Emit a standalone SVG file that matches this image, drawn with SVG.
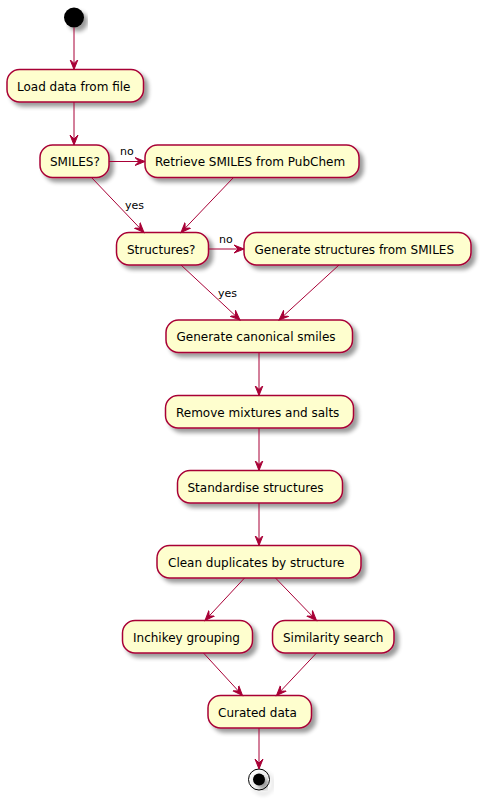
<svg xmlns="http://www.w3.org/2000/svg" width="481" height="800" viewBox="0 0 481 800">
<defs>
<filter id="sh" x="-10%" y="-20%" width="130%" height="160%">
<feGaussianBlur in="SourceAlpha" stdDeviation="2"/>
<feOffset dx="4" dy="4" result="b"/>
<feComponentTransfer in="b" result="c"><feFuncA type="linear" slope="0.4"/></feComponentTransfer>
<feMerge><feMergeNode in="c"/><feMergeNode in="SourceGraphic"/></feMerge>
</filter>
<marker id="ah" markerUnits="userSpaceOnUse" markerWidth="12" markerHeight="10" refX="10" refY="5" orient="auto" viewBox="0 0 12 10">
<path d="M0,1 L10,5 L0,9 L4,5 Z" fill="#A80036" stroke="#A80036" stroke-width="1"/>
</marker>
<style>
.box{fill:#FEFECE;stroke:#A80036;stroke-width:1.5;filter:url(#sh)}
.t{font-family:"DejaVu Sans",sans-serif;font-size:12px;fill:#000}
.l{font-family:"DejaVu Sans",sans-serif;font-size:11px;fill:#000}
.c{stroke:#A80036;stroke-width:1;fill:none;marker-end:url(#ah)}
</style>
</defs>
<rect width="481" height="800" fill="#fff"/>
<g id="start"><circle cx="74" cy="17.5" r="10" fill="#000" style="filter:url(#sh)"/></g>
<g id="load"><rect class="box" x="7" y="69.5" width="136.5" height="32.5" rx="12.5"/><text class="t" x="17" y="90.5">Load data from file</text></g>
<g id="smiles"><rect class="box" x="40" y="145" width="69" height="32.5" rx="12.5"/><text class="t" x="50" y="166">SMILES?</text></g>
<g id="retrieve"><rect class="box" x="145" y="145" width="214" height="32.5" rx="12.5"/><text class="t" x="155" y="166">Retrieve SMILES from PubChem</text></g>
<g id="structures"><rect class="box" x="116.5" y="232.5" width="92" height="32.5" rx="12.5"/><text class="t" x="127" y="253.5">Structures?</text></g>
<g id="genstruct"><rect class="box" x="244" y="232.5" width="227" height="32.5" rx="12.5"/><text class="t" x="254.5" y="253.5">Generate structures from SMILES</text></g>
<g id="canonical"><rect class="box" x="166" y="320" width="186.5" height="32.5" rx="12.5"/><text class="t" x="176.5" y="341">Generate canonical smiles</text></g>
<g id="remove"><rect class="box" x="165.5" y="395.5" width="188" height="32.5" rx="12.5"/><text class="t" x="176" y="416.5">Remove mixtures and salts</text></g>
<g id="standardise"><rect class="box" x="177.5" y="470.5" width="165" height="32.5" rx="12.5"/><text class="t" x="187.5" y="491.5">Standardise structures</text></g>
<g id="clean"><rect class="box" x="157" y="545.5" width="204" height="32.5" rx="12.5"/><text class="t" x="168" y="566.5">Clean duplicates by structure</text></g>
<g id="inchikey"><rect class="box" x="122.5" y="620.5" width="130" height="32.5" rx="12.5"/><text class="t" x="133" y="641.5">Inchikey grouping</text></g>
<g id="similarity"><rect class="box" x="272.5" y="620.5" width="121.5" height="32.5" rx="12.5"/><text class="t" x="283" y="641.5">Similarity search</text></g>
<g id="curated"><rect class="box" x="208" y="695.5" width="103.5" height="32.5" rx="12.5"/><text class="t" x="218" y="716.5">Curated data</text></g>
<g id="end"><circle cx="259" cy="779.5" r="10.5" fill="none" stroke="#000" stroke-width="1" style="filter:url(#sh)"/><circle cx="259" cy="779.5" r="6" fill="#000" style="filter:url(#sh)"/></g>
<g id="connectors">
<line class="c" x1="74" y1="27.5" x2="74" y2="69.5"/>
<line class="c" x1="74" y1="102" x2="74" y2="145"/>
<line class="c" x1="109" y1="161.5" x2="145" y2="161.5"/>
<text class="l" x="120" y="155">no</text>
<line class="c" x1="91.5" y1="177.5" x2="144" y2="232.5"/>
<text class="l" x="125" y="209">yes</text>
<line class="c" x1="233.5" y1="177.5" x2="181" y2="232.5"/>
<line class="c" x1="208.5" y1="249" x2="244" y2="249"/>
<text class="l" x="219" y="243">no</text>
<line class="c" x1="181" y1="265" x2="240" y2="320"/>
<text class="l" x="218" y="297">yes</text>
<line class="c" x1="339" y1="265" x2="279" y2="320"/>
<line class="c" x1="259" y1="352.5" x2="259" y2="395.5"/>
<line class="c" x1="259" y1="428" x2="259" y2="470.5"/>
<line class="c" x1="259" y1="503" x2="259" y2="545.5"/>
<line class="c" x1="244.5" y1="578" x2="205" y2="620.5"/>
<line class="c" x1="275.5" y1="578" x2="316.5" y2="620.5"/>
<line class="c" x1="203.5" y1="653" x2="242.5" y2="695.5"/>
<line class="c" x1="316.5" y1="653" x2="276.5" y2="695.5"/>
<line class="c" x1="259" y1="728" x2="259" y2="769"/>
</g>
</svg>
